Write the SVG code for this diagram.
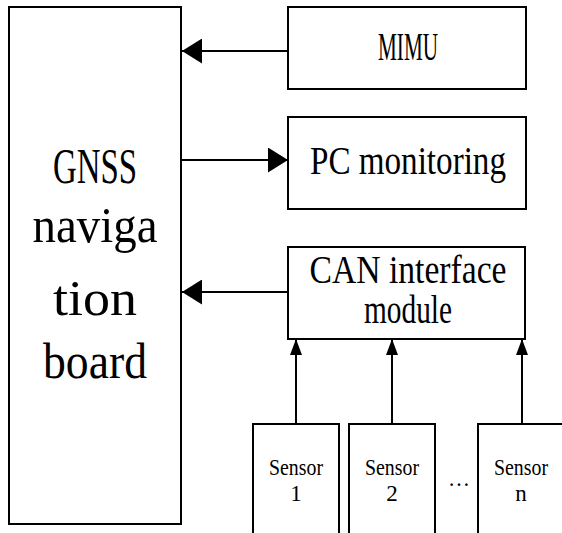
<svg xmlns="http://www.w3.org/2000/svg" width="562" height="533" viewBox="0 0 562 533">
<defs>
<marker id="ah" viewBox="0 0 20 25" refX="20" refY="12.5" markerWidth="20" markerHeight="25" markerUnits="userSpaceOnUse" orient="auto">
<path d="M0,0 L20,12.5 L0,25 Z" fill="#000"/>
</marker>
<marker id="ahs" viewBox="0 0 16 12" refX="16" refY="6" markerWidth="16" markerHeight="12" markerUnits="userSpaceOnUse" orient="auto">
<path d="M0,0 L16,6 L0,12 Z" fill="#000"/>
</marker>
</defs>
<style>
rect{fill:#fff;stroke:#000;stroke-width:2}
text{font-family:"Liberation Serif","DejaVu Serif",serif;fill:#000;text-anchor:middle}
.big{font-size:50px}
.mid{font-size:39px}
.sm{font-size:23px}
.c{stroke:#000;stroke-width:2;fill:none}
</style>
<rect x="0" y="0" width="562" height="533" style="stroke:none"/>
<g id="gnss">
<rect x="9" y="7" width="172" height="517"/>
<text class="big" x="95" y="183" textLength="84" lengthAdjust="spacingAndGlyphs">GNSS</text>
<text class="big" x="95" y="242" textLength="125" lengthAdjust="spacingAndGlyphs">naviga</text>
<text class="big" x="95" y="315" textLength="84" lengthAdjust="spacingAndGlyphs">tion</text>
<text class="big" x="95" y="378" textLength="104" lengthAdjust="spacingAndGlyphs">board</text>
</g>
<g id="mimu">
<rect x="288" y="7" width="238" height="82"/>
<text class="mid" x="408" y="60" textLength="60" lengthAdjust="spacingAndGlyphs">MIMU</text>
</g>
<g id="pc">
<rect x="288" y="117" width="238" height="92"/>
<text class="mid" x="408" y="174" textLength="196" lengthAdjust="spacingAndGlyphs">PC monitoring</text>
</g>
<g id="can">
<rect x="288" y="247" width="237" height="92"/>
<text class="mid" x="408" y="283" textLength="197" lengthAdjust="spacingAndGlyphs">CAN interface</text>
<text class="mid" x="408" y="323" textLength="88" lengthAdjust="spacingAndGlyphs">module</text>
</g>
<g id="sensor1">
<rect x="253" y="424" width="86" height="130"/>
<text class="sm" x="296" y="475" textLength="54" lengthAdjust="spacingAndGlyphs">Sensor</text>
<text class="sm" x="296" y="501">1</text>
</g>
<g id="sensor2">
<rect x="349" y="424" width="86" height="130"/>
<text class="sm" x="392" y="475" textLength="54" lengthAdjust="spacingAndGlyphs">Sensor</text>
<text class="sm" x="392" y="501">2</text>
</g>
<g id="ellipsis">
<text class="sm" x="459" y="486" textLength="22" lengthAdjust="spacingAndGlyphs">…</text>
</g>
<g id="sensorn">
<rect x="478" y="424" width="86" height="130"/>
<text class="sm" x="521" y="475" textLength="54" lengthAdjust="spacingAndGlyphs">Sensor</text>
<text class="sm" x="521" y="501">n</text>
</g>
<g id="connectors">
<line class="c" x1="288" y1="51" x2="182" y2="51" marker-end="url(#ah)"/>
<line class="c" x1="181" y1="160" x2="288" y2="160" marker-end="url(#ah)"/>
<line class="c" x1="288" y1="292" x2="182" y2="292" marker-end="url(#ah)"/>
<line class="c" x1="296" y1="424" x2="296" y2="339" marker-end="url(#ahs)"/>
<line class="c" x1="392" y1="424" x2="392" y2="339" marker-end="url(#ahs)"/>
<line class="c" x1="522" y1="424" x2="522" y2="339" marker-end="url(#ahs)"/>
</g>
</svg>
